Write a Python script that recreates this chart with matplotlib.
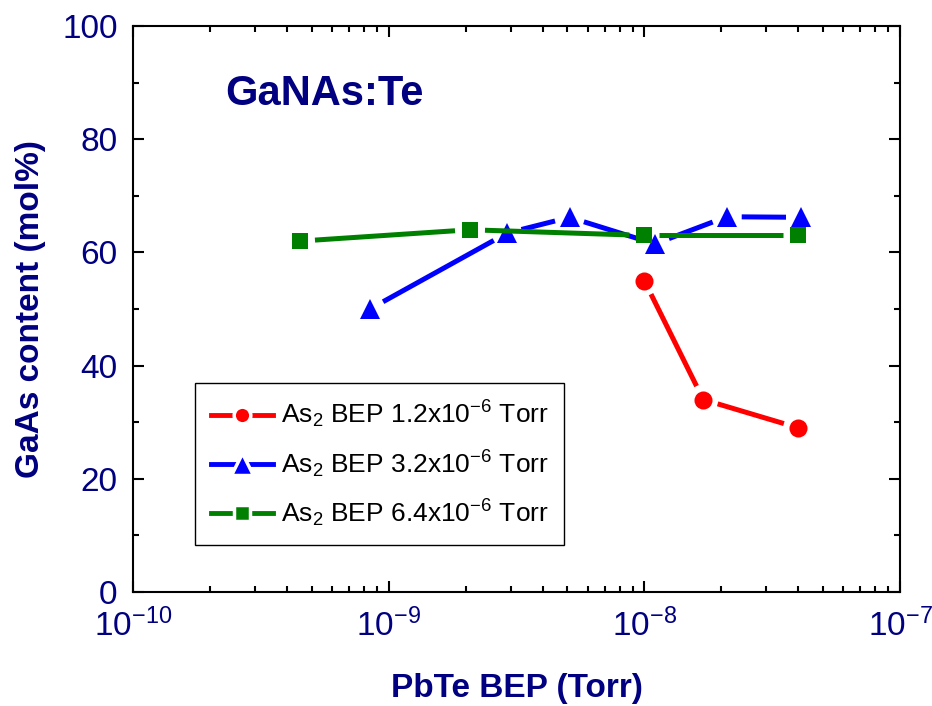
import numpy as np
import matplotlib
matplotlib.use("Agg")
import matplotlib.pyplot as plt
from matplotlib.ticker import MultipleLocator, LogLocator
from matplotlib.lines import Line2D

plt.rcParams['font.family'] = ['Liberation Sans', 'DejaVu Sans']
plt.rcParams['mathtext.fontset'] = 'custom'
plt.rcParams['mathtext.rm'] = 'Liberation Sans'
plt.rcParams['mathtext.it'] = 'Liberation Sans:italic'
plt.rcParams['mathtext.bf'] = 'Liberation Sans:bold'

# данные
pbte_red = [1.0e-8, 1.7e-8, 4.0e-8]
gaas_red = [55, 34, 29]
pbte_blue = [8.45e-10, 2.9e-9, 5.1e-9, 1.1e-8, 2.1e-8, 4.1e-8]
gaas_blue = [50, 63.4, 66.2, 61.5, 66.3, 66.2]
pbte_green = [4.5e-10, 2.08e-9, 1.0e-8, 4.0e-8]
gaas_green = [62, 64, 63, 63]

labels = [r'As$_2$ BEP 1.2x10$^{-6}$ Torr',
          r'As$_2$ BEP 3.2x10$^{-6}$ Torr',
          r'As$_2$ BEP 6.4x10$^{-6}$ Torr']
colors = ['#ff0000', '#0000ff', '#008000']
markers = ['o', '^', 's']
msizes = [13, 14, 12]
leg_msizes = [9.5, 13, 8.5]

navy = '#000080'

fig = plt.figure(figsize=(9.32, 7.06), dpi=100)
ax = fig.add_axes([133 / 932, 1 - 592 / 706, 767 / 932, 566 / 706])
ax.set_xscale('log')
ax.set_xlim(1e-10, 1e-7)
ax.set_ylim(0, 100)


# линия с разрывами около маркеров (как в Origin)
def gapped_line(xs, ys, color, lw, gap):
    pts = ax.transData.transform(np.column_stack([xs, ys]))
    inv = ax.transData.inverted()
    for p0, p1 in zip(pts[:-1], pts[1:]):
        d = p1 - p0
        L = np.hypot(d[0], d[1])
        if L <= 2 * gap:
            continue
        u = d / L
        seg = inv.transform(np.array([p0 + u * gap, p1 - u * gap]))
        ax.plot(seg[:, 0], seg[:, 1], color=color, lw=lw, solid_capstyle='butt')


series = [(pbte_red, gaas_red), (pbte_blue, gaas_blue), (pbte_green, gaas_green)]
for (xs, ys), c, m, ms in zip(series, colors, markers, msizes):
    gapped_line(xs, ys, c, 3.6, 15)
    ax.plot(xs, ys, ls='none', marker=m, ms=ms, mfc=c, mec=c, mew=0)

# оси
for sp in ax.spines.values():
    sp.set_linewidth(1.5)
ax.yaxis.set_major_locator(MultipleLocator(20))
ax.yaxis.set_minor_locator(MultipleLocator(10))
ax.xaxis.set_minor_locator(LogLocator(base=10, subs=np.arange(2, 10)))
ax.tick_params(which='both', direction='in', top=True, right=True, width=1.5,
               labelcolor=navy, labelsize=24)
ax.tick_params(which='major', length=8)
ax.tick_params(which='minor', length=4)
ax.tick_params(axis='y', pad=11)
ax.tick_params(axis='x', pad=12)

ax.set_xlabel('PbTe BEP (Torr)', fontsize=24, fontweight='bold', color=navy)
ax.set_ylabel('GaAs content (mol%)', fontsize=24, fontweight='bold', color=navy)
ax.xaxis.set_label_coords(0.5, -0.143)
ax.yaxis.set_label_coords(-0.113, 0.5)

ax.text(0.12, 0.86, 'GaNAs:Te', transform=ax.transAxes, fontsize=30,
        fontweight='bold', color=navy, ha='left', va='baseline')

# легенда: белая обводка маркера даёт разрыв линии
handles = []
for c, m, ms in zip(colors, markers, leg_msizes):
    handles.append(Line2D([], [], color=c, lw=3.5, marker=m, ms=ms + 2.5,
                          mfc=c, mec='white', mew=2.5))
leg = ax.legend(handles, labels, loc='upper left', bbox_to_anchor=(0.0808, 0.369),
                borderaxespad=0, fontsize=19, handlelength=2.35, handletextpad=0.3,
                labelspacing=0.68, borderpad=0.6, fancybox=False, framealpha=1,
                edgecolor='black', numpoints=1)
leg.get_frame().set_linewidth(1.0)

fig.savefig('out.png', dpi=100)
